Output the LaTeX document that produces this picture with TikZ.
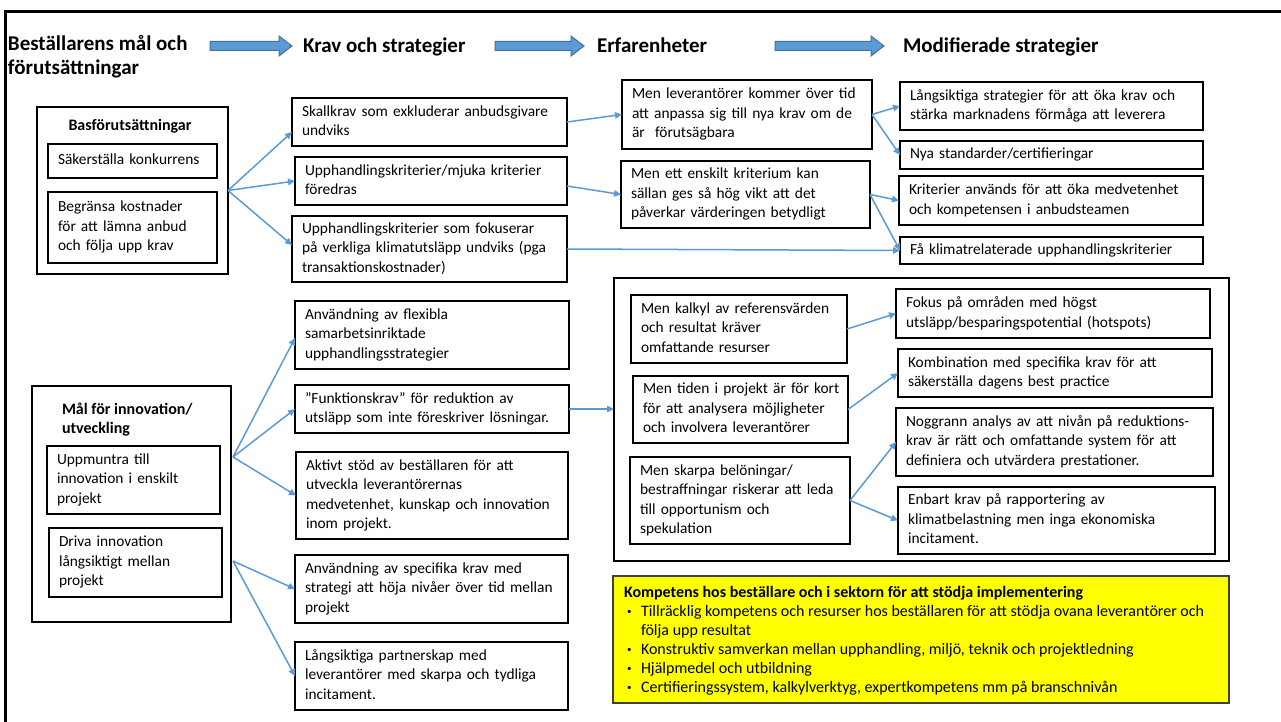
\documentclass[tikz,border=0pt]{standalone}
\usepackage{fontspec}
\setmainfont{Carlito}
\usetikzlibrary{arrows.meta}

\definecolor{conn}{HTML}{5B9BD5}
\definecolor{arrfill}{HTML}{5B9BD5}
\definecolor{arrline}{HTML}{41719C}
\definecolor{hilite}{HTML}{FFFF00}

\newcommand\txtbody{\fontsize{15.4}{19.5}\selectfont}
\newcommand\txttitle{\fontsize{16}{19.5}\selectfont\bfseries}
\newcommand\txthead{\fontsize{21}{24}\selectfont\bfseries}
\newcommand\txtyellow{\fontsize{16}{19}\selectfont}
\newcommand\boxtext[1]{\noindent\begin{tabular}{@{}l@{}}#1\end{tabular}}
\newcommand\bul{\makebox[17pt][l]{\hspace{3pt}\raisebox{1.5pt}{\fontsize{9}{9}\selectfont•}}}
\newcommand\blockarrow[3]{%
  \filldraw[fill=arrfill, draw=arrline, line width=1pt]
    (#1,#3-4.5) -- (#2-13,#3-4.5) -- (#2-13,#3-10) -- (#2,#3)
    -- (#2-13,#3+10) -- (#2-13,#3+4.5) -- (#1,#3+4.5) -- cycle;}

\tikzset{
  every node/.style={inner sep=0pt, outer sep=0pt},
  bx/.style n args={2}{draw, line width=1.2pt, rectangle, anchor=north west,
    inner xsep=10pt, inner ysep=0pt, text width=#1pt, minimum height=#2pt,
    align=left, font=\txtbody},
  grp/.style={draw, line width=1.2pt, rectangle, anchor=north west},
  hdr/.style={font=\txthead, align=left, anchor=base west},
  ttl/.style={font=\txttitle, align=left},
  conn/.style={draw=conn, line width=1.5pt, -{Triangle[length=7pt,width=6.5pt]}}
}

\begin{document}
\begin{tikzpicture}[x=1pt,y=-1pt]
\useasboundingbox (0,0) rectangle (1281,722);
\fill[white] (0,0) rectangle (1281,722);

% outer frame
\draw[line width=3pt] (5.5,722) -- (5.5,11.5) -- (1281,11.5);

% column headings
\node[font=\txthead, align=left, anchor=west] (hA) at (8,57) {Beställarens mål och\\förutsättningar};
\node[hdr] (hB) at (303,53) {Krav och strategier};
\node[hdr] (hC) at (597,53) {Erfarenheter};
\node[hdr] (hD) at (903,53) {Modifierade strategier};
\blockarrow{210}{292}{46}
\blockarrow{495}{584}{46}
\blockarrow{775}{884}{46}

% basic conditions
\node[grp, minimum width=191pt, minimum height=167pt] (bas) at (37,107) {};
\node[ttl] (basT) at (130,126) {Basförutsättningar};
\node[bx={149}{34}] (bas1) at (48,144) {\boxtext{Säkerställa konkurrens}};
\node[bx={149}{71}] (bas2) at (48,192) {\boxtext{Begränsa kostnader\\för att lämna anbud\\och följa upp krav}};

% requirements, upper part
\node[bx={255}{48}] (k1) at (292,98) {\boxtext{Skallkrav som exkluderar anbudsgivare\\undviks}};
\node[bx={252}{48}] (k2) at (295,157) {\boxtext{Upphandlingskriterier/mjuka kriterier\\föredras}};
\node[bx={255}{66}] (k3) at (292,216) {\boxtext{Upphandlingskriterier som fokuserar\\på verkliga klimatutsläpp undviks (pga\\transaktionskostnader)}};

% experiences, upper part
\node[bx={230}{69}] (e1) at (622,80) {\boxtext{Men leverantörer kommer över tid\\att anpassa sig till nya krav om de\\är~ förutsägbara}};
\node[bx={229}{67}] (e2) at (621,161) {\boxtext{Men ett enskilt kriterium kan\\sällan ges så hög vikt att det\\påverkar värderingen betydligt}};

% modified strategies, upper part
\node[bx={283}{48}] (m1) at (900,82) {\boxtext{Långsiktiga strategier för att öka krav och\\stärka marknadens förmåga att leverera}};
\node[bx={283}{28}] (m2) at (900,141) {\boxtext{Nya standarder/certifieringar}};
\node[bx={284}{49}] (m3) at (899,176) {\boxtext{Kriterier används för att öka medvetenhet\\och kompetensen i anbudsteamen}};
\node[bx={283}{27}] (m4) at (900,237) {\boxtext{Få klimatrelaterade upphandlingskriterier}};

% innovation goals
\node[grp, minimum width=199pt, minimum height=236pt] (mal) at (32,386) {};
\node[ttl, anchor=west] (malT) at (62,419.5) {Mål för innovation/\\utveckling};
\node[bx={153}{68}] (i1) at (47,446) {\boxtext{Uppmuntra till\\innovation i enskilt\\projekt}};
\node[bx={153}{69}] (i2) at (49,528) {\boxtext{Driva innovation\\långsiktigt mellan\\projekt}};

% requirements, lower part
\node[bx={254}{68}] (f1) at (295,301) {\boxtext{Användning av flexibla\\samarbetsinriktade\\upphandlingsstrategier}};
\node[bx={254}{48}] (f2) at (295,385) {\boxtext{”Funktionskrav” för reduktion av\\utsläpp som inte föreskriver lösningar.}};
\node[bx={252}{87}] (f3) at (296,452) {\boxtext{Aktivt stöd av beställaren för att\\utveckla leverantörernas\\medvetenhet, kunskap och innovation\\inom projekt.}};
\node[bx={253}{68}] (f4) at (295,555) {\boxtext{Användning av specifika krav med\\strategi att höja nivåer över tid mellan\\projekt}};
\node[bx={253}{68}] (f5) at (295,642) {\boxtext{Långsiktiga partnerskap med\\leverantörer med skarpa och tydliga\\incitament.}};

% experiences and strategies, lower part
\node[grp, minimum width=615pt, minimum height=283pt] (big) at (614,278) {};
\node[bx={196}{68}] (l1) at (631,295) {\boxtext{Men kalkyl av referensvärden\\och resultat kräver\\omfattande resurser}};
\node[bx={195}{67}] (l2) at (633,376) {\boxtext{Men tiden i projekt är för kort\\för att analysera möjligheter\\och involvera leverantörer}};
\node[bx={200}{87}] (l3) at (630,457) {\boxtext{Men skarpa belöningar/\\bestraffningar riskerar att leda\\till opportunism och\\spekulation}};
\node[bx={294}{49}] (r1) at (896,289) {\boxtext{Fokus på områden med högst\\utsläpp/besparingspotential (hotspots)}};
\node[bx={294}{48}] (r2) at (898,349) {\boxtext{Kombination med specifika krav för att\\säkerställa dagens best practice}};
\node[bx={297}{68}] (r3) at (896,408) {\boxtext{Noggrann analys av att nivån på reduktions-\\krav är rätt och omfattande system för att\\definiera och utvärdera prestationer.}};
\node[bx={297}{67}] (r4) at (898,487) {\boxtext{Enbart krav på rapportering av\\klimatbelastning men inga ekonomiska\\incitament.}};

% competence box
\node[grp, fill=hilite, draw=black!75, line width=1.5pt, minimum width=616pt, minimum height=127pt] (kom) at (613,576) {};
\node[anchor=north west, font=\txtyellow, align=left] (komT) at (624,584) {\boxtext{%
\textbf{Kompetens hos beställare och i sektorn för att stödja implementering}\\
\bul Tillräcklig kompetens och resurser hos beställaren för att stödja ovana leverantörer och\\
\hspace*{17pt}följa upp resultat\\
\bul Konstruktiv samverkan mellan upphandling, miljö, teknik och projektledning\\
\bul Hjälpmedel och utbildning\\
\bul Certifieringssystem, kalkylverktyg, expertkompetens mm på branschnivån}};

% connectors
\draw[conn] (bas.east) -- ([yshift=-10pt]k1.west);
\draw[conn] (bas.east) -- (k2.west);
\draw[conn] (bas.east) -- ([yshift=4pt]k3.west);
\draw[conn] (k1.east) -- (e1.west);
\draw[conn] ([yshift=-5pt]k2.east) -- (e2.west);
\draw[conn] (k3.east) -- (m4.west);
\draw[conn] (e1.east) -- (m1.west);
\draw[conn] (e1.east) -- (m2.west);
\draw[conn] (e2.east) -- (m3.west);
\draw[conn] (e2.east) -- (m4.west);

\coordinate (o1) at ([xshift=2pt,yshift=47pt]mal.east);
\coordinate (o2) at ([xshift=2pt,yshift=-57pt]mal.east);
\draw[conn] (o1) -- ([yshift=-3pt]f1.west);
\draw[conn] (o1) -- (f2.west);
\draw[conn] (o1) -- (f3.west);
\draw[conn] (o2) -- (f4.west);
\draw[conn] (o2) -- (f5.west);
\draw[conn] (f2.east) -- (f2.east -| big.west);

\draw[conn] (l1.east) -- (r1.west);
\draw[conn] (l2.east) -- (r2.west);
\draw[conn] (l3.east) -- (r3.west);
\draw[conn] (l3.east) -- (r4.west);
\end{tikzpicture}
\end{document}
